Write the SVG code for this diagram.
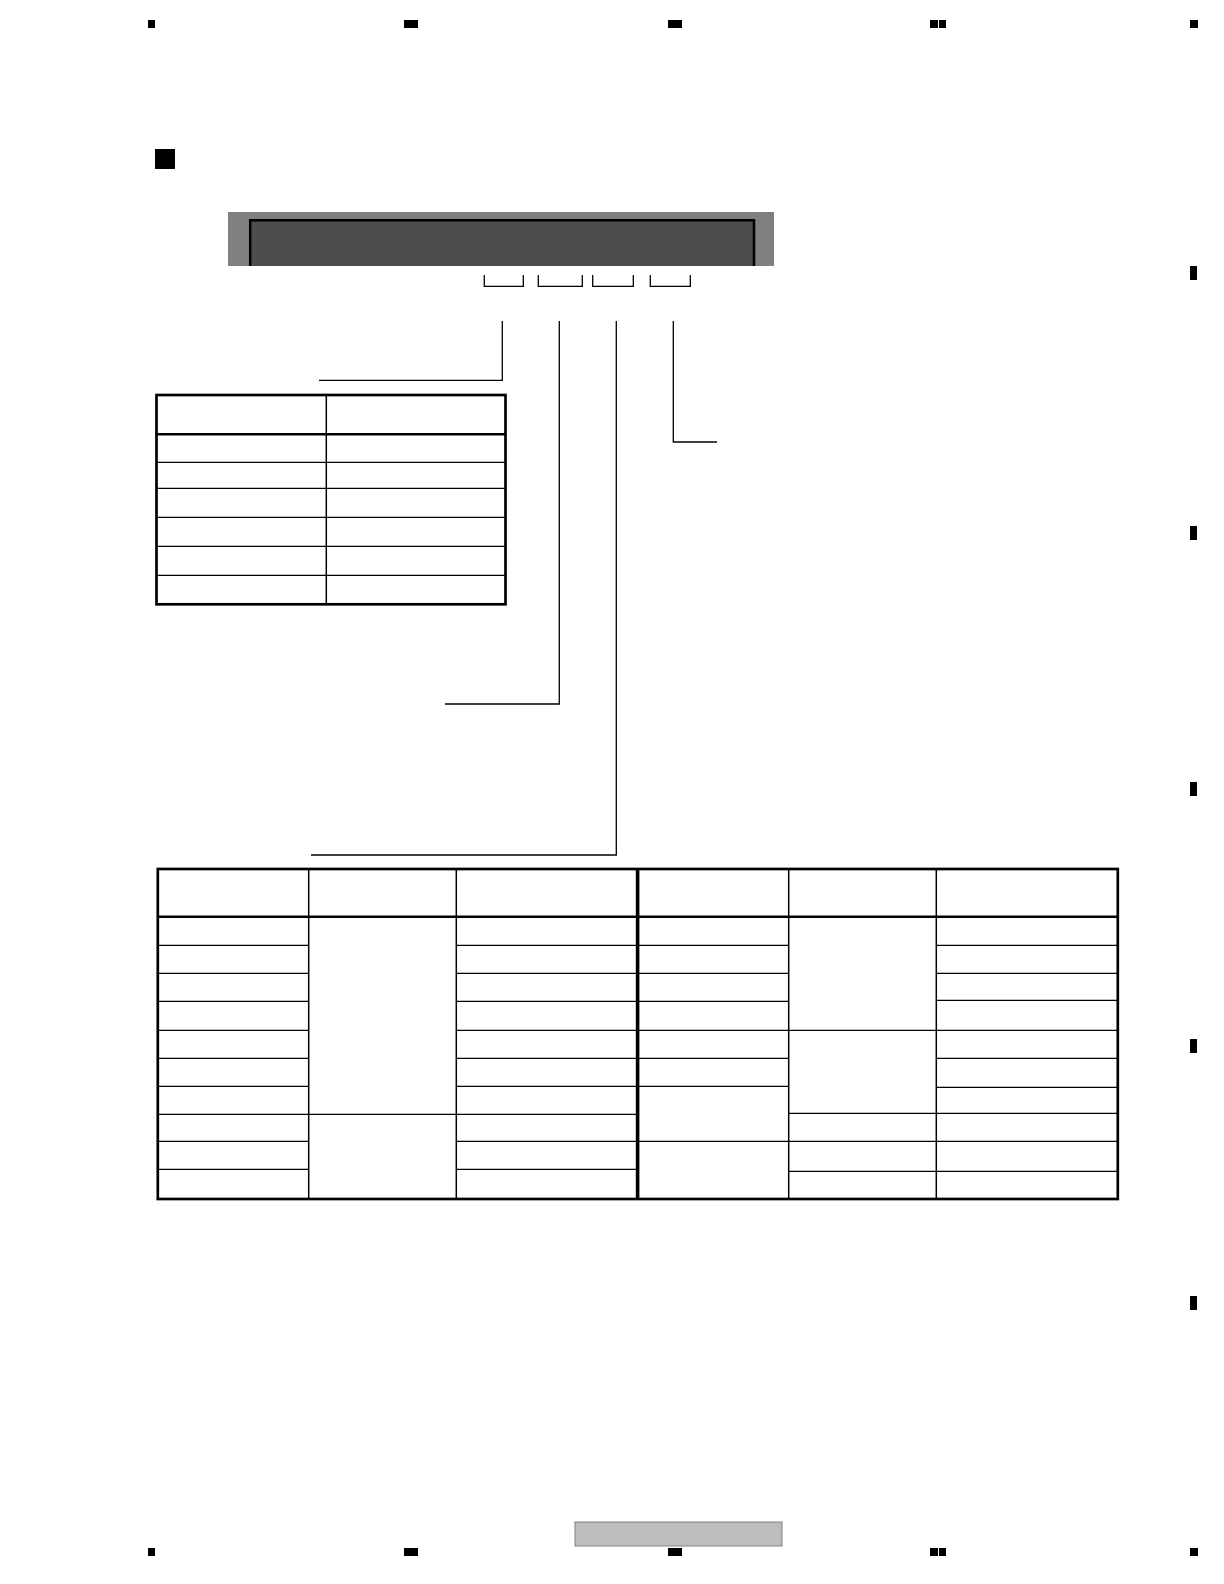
<svg xmlns="http://www.w3.org/2000/svg" width="1224" height="1584" viewBox="0 0 1224 1584">
  <style>
    .mark { fill: #000000; }
    .outer { fill: #ffffff; stroke: #000000; stroke-width: 2.7; }
    .thick { stroke: #000000; stroke-width: 2.5; fill: none; }
    .thin { stroke: #000000; stroke-width: 1.3; fill: none; }
    .col { stroke: #000000; stroke-width: 1.5; fill: none; }
    .conn { stroke: #000000; stroke-width: 1.3; fill: none; }
  </style>
  <rect width="1224" height="1584" fill="#ffffff"/>

  <g id="page-marks">
    <rect class="mark" x="148" y="20" width="7" height="8"/>
    <rect class="mark" x="404" y="20" width="14" height="8"/>
    <rect class="mark" x="668" y="20" width="14" height="8"/>
    <rect class="mark" x="930" y="20" width="8" height="8"/>
    <rect class="mark" x="939" y="20" width="7" height="8"/>
    <rect class="mark" x="1190" y="20" width="8" height="8"/>
    <rect class="mark" x="148" y="1548" width="7" height="8"/>
    <rect class="mark" x="404" y="1548" width="14" height="8"/>
    <rect class="mark" x="668" y="1548" width="14" height="8"/>
    <rect class="mark" x="930" y="1548" width="8" height="8"/>
    <rect class="mark" x="939" y="1548" width="7" height="8"/>
    <rect class="mark" x="1190" y="1548" width="8" height="8"/>
    <rect class="mark" x="1190" y="266" width="7" height="14"/>
    <rect class="mark" x="1190" y="526" width="7" height="14"/>
    <rect class="mark" x="1190" y="782" width="7" height="14"/>
    <rect class="mark" x="1190" y="1039" width="7" height="14"/>
    <rect class="mark" x="1190" y="1296" width="7" height="14"/>
  </g>

  <g id="section-bullet">
    <rect x="155" y="149" width="20" height="20" fill="#000000"/>
  </g>

  <g id="display">
    <rect x="228" y="212" width="546" height="54" fill="#808080"/>
    <rect x="249" y="219" width="506" height="47" fill="#4d4d4d"/>
    <path d="M250.2,266 V220.2 H754 V266" stroke="#000000" stroke-width="2.5" fill="none"/>
  </g>

  <g id="segments">
    <path id="seg1" class="thin" d="M484.3,275 V286.3 H523.3 V275"/>
    <path id="seg2" class="thin" d="M538.3,275 V286.3 H582.3 V275"/>
    <path id="seg3" class="thin" d="M592.7,275 V286.3 H633.3 V275"/>
    <path id="seg4" class="thin" d="M650.3,275 V286.3 H690.3 V275"/>
  </g>

  <g id="connectors">
    <path class="conn" d="M502.3,321 V380.3 H319"/>
    <path class="conn" d="M559.3,321 V704 H445"/>
    <path class="conn" d="M616.3,321 V855 H311"/>
    <path class="conn" d="M673.3,321 V442 H717"/>
  </g>

  <g id="small-table">
    <rect class="outer" x="156.5" y="395" width="349" height="209.3"/>
    <line class="thick" x1="156.5" y1="434.3" x2="505.5" y2="434.3"/>
    <line class="thin" x1="156.5" y1="462.3" x2="505.5" y2="462.3"/>
    <line class="thin" x1="156.5" y1="488.3" x2="505.5" y2="488.3"/>
    <line class="thin" x1="156.5" y1="517.3" x2="505.5" y2="517.3"/>
    <line class="thin" x1="156.5" y1="546.3" x2="505.5" y2="546.3"/>
    <line class="thin" x1="156.5" y1="575.3" x2="505.5" y2="575.3"/>
    <line class="col" x1="326.3" y1="395" x2="326.3" y2="604.3"/>
  </g>

  <g id="big-table">
    <rect class="outer" x="157.8" y="869" width="960" height="330"/>
    <line class="thick" x1="157.8" y1="916.7" x2="1117.8" y2="916.7"/>
    <!-- column 1 rows -->
    <path class="thin" d="M157.8,945.3 H308.7 M157.8,973.3 H308.7 M157.8,1001.3 H308.7 M157.8,1030.3 H308.7 M157.8,1058.3 H308.7 M157.8,1086.3 H308.7 M157.8,1114.3 H308.7 M157.8,1141.3 H308.7 M157.8,1169.3 H308.7"/>
    <!-- column 2 rows -->
    <path class="thin" d="M308.7,1114.3 H456.3"/>
    <!-- column 3 rows -->
    <path class="thin" d="M456.3,945.3 H637.5 M456.3,973.3 H637.5 M456.3,1001.3 H637.5 M456.3,1030.3 H637.5 M456.3,1058.3 H637.5 M456.3,1086.3 H637.5 M456.3,1114.3 H637.5 M456.3,1141.3 H637.5 M456.3,1169.3 H637.5"/>
    <!-- column 4 rows -->
    <path class="thin" d="M637.5,945.3 H788.7 M637.5,973.3 H788.7 M637.5,1001.3 H788.7 M637.5,1030.3 H788.7 M637.5,1058.3 H788.7 M637.5,1086.3 H788.7 M637.5,1141.3 H788.7"/>
    <!-- column 5 rows -->
    <path class="thin" d="M788.7,1030.3 H936.3 M788.7,1113.3 H936.3 M788.7,1141.3 H936.3 M788.7,1171.3 H936.3"/>
    <!-- column 6 rows -->
    <path class="thin" d="M936.3,945.3 H1117.8 M936.3,973.3 H1117.8 M936.3,1000.3 H1117.8 M936.3,1030.3 H1117.8 M936.3,1058.3 H1117.8 M936.3,1087.3 H1117.8 M936.3,1113.3 H1117.8 M936.3,1141.3 H1117.8 M936.3,1171.3 H1117.8"/>
    <!-- columns -->
    <line class="col" x1="308.7" y1="869" x2="308.7" y2="1199"/>
    <line class="col" x1="456.3" y1="869" x2="456.3" y2="1199"/>
    <line class="col" x1="788.7" y1="869" x2="788.7" y2="1199"/>
    <line class="col" x1="936.3" y1="869" x2="936.3" y2="1199"/>
    <line x1="637.6" y1="869" x2="637.6" y2="1199" stroke="#000000" stroke-width="3.6"/>
  </g>

  <g id="footer-box">
    <rect x="575" y="1522" width="207" height="24" fill="#bcbdbf" stroke="#808080" stroke-width="1"/>
  </g>
</svg>
